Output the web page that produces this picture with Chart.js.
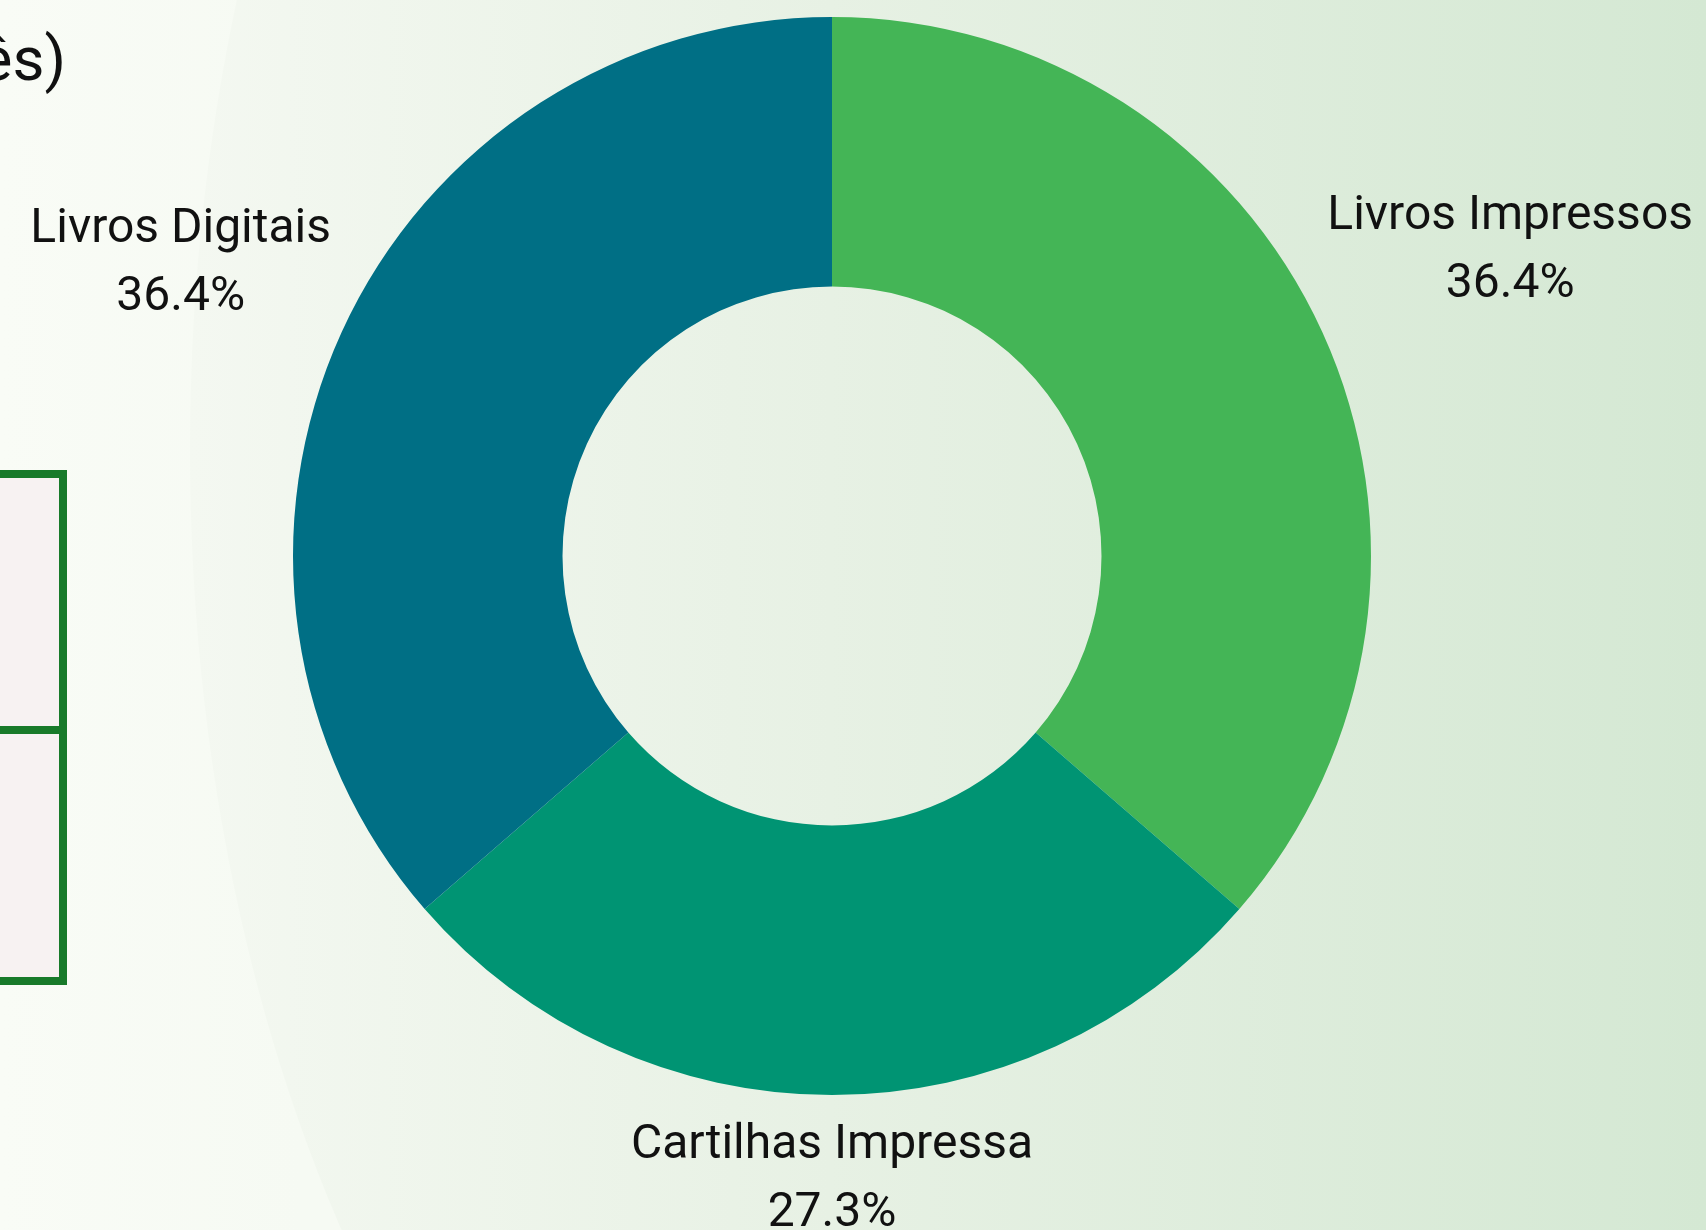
<!DOCTYPE html>
<html>
<head>
<meta charset="utf-8">
<script src="https://cdn.jsdelivr.net/npm/chart.js@4/dist/chart.umd.min.js"></script>
<style>
  html, body { margin: 0; padding: 0; }
  body {
    width: 1706px; height: 1230px; overflow: hidden; position: relative;
    background: linear-gradient(to right, #f9fcf6 0px, #f6faf3 300px);
    font-family: Roboto, "Noto Sans", sans-serif;
  }
  #bgshape {
    position: absolute; left: 190px; top: -850px; width: 1600px; height: 2600px;
    border-radius: 758px 0 0 758px / 1300px 0 0 1300px;
    background: linear-gradient(to right, #f4f8f1 0%, #e7f1e4 40%, #d4e8d3 94.75%, #d4e8d3 100%);
  }
  #title {
    position: absolute; right: calc(100% - 66px); top: 28px;
    font-size: 62px; line-height: 1; color: #111; white-space: nowrap;
  }
  .box {
    position: absolute; left: -200px; width: 267px; box-sizing: border-box;
    border: 8px solid #187a2a; background: #f7f2f2;
  }
  #chart { position: absolute; left: 0; top: 0; }
</style>
</head>
<body>
<div id="bgshape"></div>
<div id="title">ês)</div>
<div class="box" style="top:470px;height:264px;"></div>
<div class="box" style="top:726px;height:259px;"></div>
<canvas id="chart" width="1706" height="1230"></canvas>
<script>
const categories = ['Livros Impressos', 'Cartilhas Impressa', 'Livros Digitais'];
const values = [4, 3, 4];
const colors = ['#44b556', '#009473', '#006f85'];

const outsideLabels = {
  id: 'outsideLabels',
  afterDatasetsDraw(chart) {
    const ctx = chart.ctx;
    const meta = chart.getDatasetMeta(0);
    const data = chart.data.datasets[0].data;
    const total = data.reduce((a, b) => a + b, 0);
    const fontSize = 48, lineH = 68, offset = 12, yShift = 5;
    ctx.save();
    ctx.font = fontSize + 'px Roboto';
    ctx.fillStyle = '#111';
    ctx.textAlign = 'center';
    ctx.textBaseline = 'middle';
    meta.data.forEach((arc, i) => {
      const p = arc.getProps(['x', 'y', 'startAngle', 'endAngle', 'outerRadius'], true);
      const mid = (p.startAngle + p.endAngle) / 2;
      const dx = Math.cos(mid), dy = Math.sin(mid);
      const lines = [chart.data.labels[i], (data[i] / total * 100).toFixed(1) + '%'];
      const w = Math.max(...lines.map(l => ctx.measureText(l).width));
      const h = lineH * lines.length;
      const dist = p.outerRadius + offset + Math.abs(dx) * w / 2 + Math.abs(dy) * h / 2;
      const cx = p.x + dx * dist, cy = p.y + dy * dist + yShift;
      lines.forEach((l, k) => {
        ctx.fillText(l, cx, cy + (k - (lines.length - 1) / 2) * lineH);
      });
    });
    ctx.restore();
  }
};

new Chart(document.getElementById('chart'), {
  type: 'doughnut',
  data: {
    labels: categories,
    datasets: [{ data: values, backgroundColor: colors, borderWidth: 0 }]
  },
  options: {
    responsive: false,
    animation: false,
    cutout: '50%',
    layout: { padding: { left: 293, right: 335, top: 17, bottom: 135 } },
    plugins: { legend: { display: false }, tooltip: { enabled: false } }
  },
  plugins: [outsideLabels]
});
</script>
</body>
</html>
